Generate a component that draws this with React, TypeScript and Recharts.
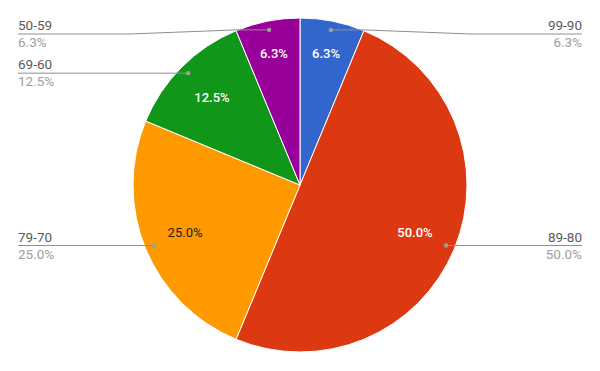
import { PieChart, Pie, Cell } from "recharts"

const GRADES = ["99-90", "89-80", "79-70", "69-60", "50-59"]
const COUNTS = [1, 8, 4, 2, 1]
const COLORS = ["#3366cc", "#dc3912", "#ff9900", "#109618", "#990099"]
const INNER_TEXT = ["#ffffff", "#ffffff", "#222222", "#ffffff", "#ffffff"]

const RAD = Math.PI / 180
const FONT = "Roboto, Arial, sans-serif"

const data = GRADES.map((g, i) => ({ name: g, value: COUNTS[i], idx: i }))

function SliceLabel(props: any) {
  const { cx, cy, midAngle, outerRadius, percent, payload } = props
  const i = payload.idx
  const cos = Math.cos(-midAngle * RAD)
  const sin = Math.sin(-midAngle * RAD)
  const pct = `${(percent * 100).toFixed(1)}%`

  // inner text
  const ir = outerRadius * (percent < 0.1 ? 0.8 : 0.745)
  const ix = cx + ir * cos
  const iy = cy + ir * sin

  // leader dot + line
  const dr = outerRadius * 0.947
  const dx = cx + dr * cos
  const dy = cy + dr * sin
  const right = cos >= 0
  const endX = right ? 582 : 18
  const lineY = Math.max(dy, 34)
  const sign = right ? 1 : -1
  const pts =
    lineY === dy
      ? `${dx},${dy} ${endX},${lineY}`
      : `${dx},${dy} ${dx + sign * 32},${dy} ${dx + sign * 140},${lineY} ${endX},${lineY}`

  return (
    <g>
      <text
        x={ix}
        y={iy}
        textAnchor="middle"
        dominantBaseline="central"
        fill={INNER_TEXT[i]}
        fontSize={13}
        fontWeight={INNER_TEXT[i] === "#ffffff" ? 500 : 400}
        fontFamily={FONT}
      >
        {pct}
      </text>
      <polyline points={pts} fill="none" stroke="#8f8f8f" strokeWidth={1} />
      <circle cx={dx} cy={dy} r={2.2} fill="#9e9e9e" />
      <text
        x={endX}
        y={lineY - 4}
        textAnchor={right ? "end" : "start"}
        fill="#5a5a5a"
        fontSize={13.5}
        fontFamily={FONT}
      >
        {payload.name}
      </text>
      <text
        x={endX}
        y={lineY + 13}
        textAnchor={right ? "end" : "start"}
        fill="#9e9e9e"
        fontSize={13.5}
        fontFamily={FONT}
      >
        {pct}
      </text>
    </g>
  )
}

export default function App() {
  return (
    <div style={{ position: "absolute", left: 0, top: 0, width: 600, height: 371, background: "#fff" }}>
      <PieChart width={600} height={371} margin={{ top: 0, right: 0, bottom: 0, left: 0 }}>
        <Pie
          data={data}
          dataKey="value"
          nameKey="name"
          cx={300}
          cy={185}
          outerRadius={167}
          startAngle={90}
          endAngle={-270}
          stroke="#ffffff"
          strokeWidth={1}
          label={SliceLabel}
          labelLine={false}
          isAnimationActive={false}
        >
          {data.map((d, i) => (
            <Cell key={d.name} fill={COLORS[i]} />
          ))}
        </Pie>
      </PieChart>
    </div>
  )
}
